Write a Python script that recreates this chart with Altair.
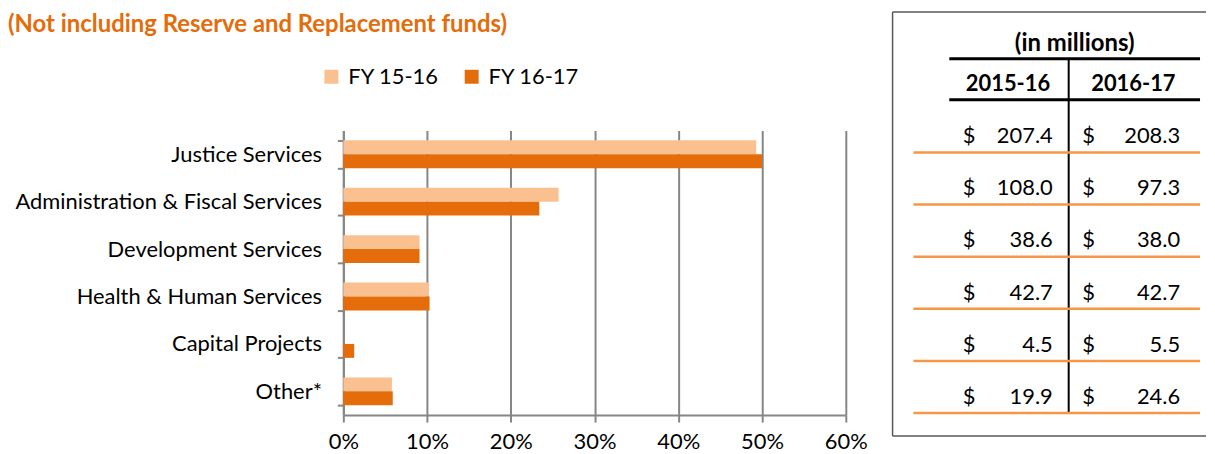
import altair as alt
import pandas as pd

# ---------------- data ----------------
categories = ["Justice Services", "Administration & Fiscal Services", "Development Services",
              "Health & Human Services", "Capital Projects", "Other*"]
series = ["FY 15-16", "FY 16-17"]
share_15_16 = [0.493, 0.257, 0.091, 0.102, 0.0, 0.058]
share_16_17 = [0.500, 0.234, 0.091, 0.103, 0.013, 0.059]
x_ticks = [0, 0.1, 0.2, 0.3, 0.4, 0.5, 0.6]

table_years = ["2015-16", "2016-17"]
amount_15_16 = [207.4, 108.0, 38.6, 42.7, 4.5, 19.9]
amount_16_17 = [208.3, 97.3, 38.0, 42.7, 5.5, 24.6]

# ---------------- styles ----------------
FONT = "Lato"
ORANGE = "#E46C0A"
LIGHT = "#FAC090"
LINE_ORANGE = "#F79646"
GRID = "#868686"
BORDER = "#595959"

bar_rows = []
for s, vals in zip(series, [share_15_16, share_16_17]):
    for c, v in zip(categories, vals):
        bar_rows.append({"category": c, "series": s, "share": v})
bar_df = pd.DataFrame(bar_rows)

tab_rows = []
for y, vals in zip(table_years, [amount_15_16, amount_16_17]):
    for c, v in zip(categories, vals):
        tab_rows.append({"item": c, "year": y, "amount": v, "label": f"{v:.1f}"})
tab_df = pd.DataFrame(tab_rows)
years_df = pd.DataFrame({"year": table_years})
one = pd.DataFrame({"k": [0]})

# ---------------- bar chart ----------------
bars = alt.Chart(bar_df).mark_bar().encode(
    x=alt.X("share:Q", scale=alt.Scale(domain=[0, 0.6], nice=False),
            axis=alt.Axis(values=x_ticks, format=".0%", title=None, grid=True,
                          gridColor=GRID, gridWidth=2, domainColor=GRID, domainWidth=2,
                          tickColor=GRID, tickWidth=2, tickSize=7, labelFlush=False,
                          labelFont=FONT, labelFontSize=22, labelColor="#000",
                          labelPadding=10)),
    y=alt.Y("category:N", sort=categories,
            scale=alt.Scale(paddingInner=0.413, paddingOuter=0.207),
            axis=alt.Axis(title=None, tickBand="extent", domainColor=GRID, domainWidth=2,
                          tickColor=GRID, tickWidth=2, tickSize=6, labelPadding=16,
                          labelFont=FONT, labelFontSize=22, labelColor="#000",
                          labelLimit=400, grid=False, minExtent=337, maxExtent=337)),
    yOffset=alt.YOffset("series:N", sort=series,
                        scale=alt.Scale(paddingInner=0, paddingOuter=0)),
    color=alt.Color("series:N", sort=series,
                    scale=alt.Scale(domain=series, range=[LIGHT, ORANGE]),
                    legend=alt.Legend(title=None, orient="none", legendX=-23, legendY=-65,
                                      direction="horizontal", symbolType="square",
                                      symbolSize=196, symbolStrokeWidth=0,
                                      labelFont=FONT, labelFontSize=22, labelColor="#000",
                                      labelOffset=6, columnPadding=21, padding=0)),
).properties(
    width=505, height=286,
    title=alt.TitleParams("(Not including Reserve and Replacement funds)", anchor="start",
                          font=FONT, fontSize=24, fontWeight="bold", color=ORANGE,
                          offset=29),
)

# ---------------- table (y measured from the bar plot's top edge) ----------------
TW, TH = 315, 307
TOP = -119
row_scale = alt.Scale(type="band", domain=categories, range=[-30.4, 284],
                      paddingInner=0, paddingOuter=0)

dollars = alt.Chart(tab_df).mark_text(font=FONT, fontSize=22, color="#000",
                                      align="center", baseline="middle").encode(
    x=alt.X("year:N", scale=alt.Scale(type="point", domain=table_years, range=[77, 197],
                                      padding=0), axis=None),
    y=alt.Y("item:N", scale=row_scale, axis=None, bandPosition=0.69),
    text=alt.value("$"),
)
values = alt.Chart(tab_df).mark_text(font=FONT, fontSize=22, color="#000",
                                     align="right", baseline="middle").encode(
    x=alt.X("year:N", scale=alt.Scale(type="point", domain=table_years, range=[161, 289],
                                      padding=0), axis=None),
    y=alt.Y("item:N", scale=row_scale, axis=None, bandPosition=0.69),
    text="label:N",
)
row_lines = alt.Chart(pd.DataFrame({"item": categories})).mark_rule(
    color=LINE_ORANGE, strokeWidth=2.5).encode(
    y=alt.Y("item:N", scale=row_scale, axis=None, bandPosition=1),
    x=alt.value(21), x2=alt.value(309),
)
headers = alt.Chart(years_df).mark_text(font=FONT, fontSize=22, fontWeight="bold",
                                        color="#000", align="center",
                                        baseline="middle").encode(
    x=alt.X("year:N", scale=alt.Scale(type="point", domain=table_years, range=[116, 242],
                                      padding=0), axis=None),
    y=alt.value(-47),
    text="year:N",
)
units = alt.Chart(one).mark_text(font=FONT, fontSize=24, fontWeight="bold", color="#000",
                                 align="center", baseline="middle").encode(
    x=alt.value(183), y=alt.value(-87), text=alt.value("(in millions)"))
hline1 = alt.Chart(one).mark_rule(color="#000", strokeWidth=3).encode(
    x=alt.value(57), x2=alt.value(309), y=alt.value(-72))
hline2 = alt.Chart(one).mark_rule(color="#000", strokeWidth=3).encode(
    x=alt.value(57), x2=alt.value(309), y=alt.value(-31))
vline = alt.Chart(one).mark_rule(color="#000", strokeWidth=2).encode(
    x=alt.value(177), y=alt.value(-72), y2=alt.value(284))
b_left = alt.Chart(one).mark_rule(color=BORDER, strokeWidth=1.5).encode(
    x=alt.value(0), y=alt.value(TOP), y2=alt.value(TH))
b_top = alt.Chart(one).mark_rule(color=BORDER, strokeWidth=1.5).encode(
    x=alt.value(0), x2=alt.value(TW), y=alt.value(TOP))
b_bot = alt.Chart(one).mark_rule(color=BORDER, strokeWidth=1.5).encode(
    x=alt.value(0), x2=alt.value(TW), y=alt.value(TH))

table = alt.layer(b_left, b_top, b_bot, units, hline1, hline2, vline, row_lines,
                  headers, dollars, values).resolve_scale(x="independent").properties(
    width=TW, height=TH)

chart = alt.hconcat(bars, table, spacing=24).resolve_scale(
    x="independent", y="independent", color="independent").properties(
    padding={"left": 0, "top": 2, "right": 0, "bottom": 0}
).configure_view(stroke=None)

chart.save("out.html", embed_options={"renderer": "svg", "actions": False})
